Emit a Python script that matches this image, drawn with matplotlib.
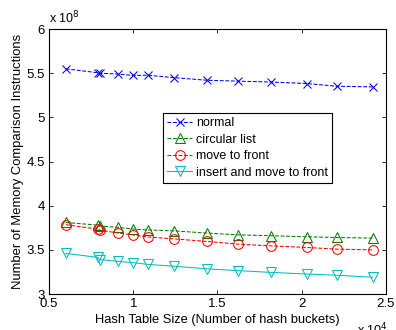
import matplotlib
matplotlib.use("Agg")
import matplotlib.pyplot as plt

plt.rcParams['font.family'] = ['Liberation Sans', 'DejaVu Sans']

# hash table sizes (x 10^4)
buckets = [0.60, 0.79, 0.80, 0.91, 1.00, 1.09, 1.24, 1.44, 1.62, 1.82, 2.03, 2.21, 2.42]
# memory comparison instructions (x 10^8)
normal = [5.55, 5.505, 5.50, 5.49, 5.475, 5.477, 5.45, 5.42, 5.41, 5.40, 5.383, 5.352, 5.345]
circular = [3.81, 3.78, 3.77, 3.755, 3.735, 3.725, 3.715, 3.69, 3.67, 3.66, 3.648, 3.64, 3.633]
move_front = [3.785, 3.735, 3.725, 3.69, 3.67, 3.645, 3.625, 3.595, 3.565, 3.545, 3.527, 3.508, 3.50]
insert_move = [3.46, 3.415, 3.39, 3.37, 3.355, 3.335, 3.315, 3.285, 3.265, 3.245, 3.226, 3.213, 3.19]

x_ticks = [0.5, 1, 1.5, 2, 2.5]
y_ticks = [3, 3.5, 4, 4.5, 5, 5.5, 6]

fig = plt.figure(figsize=(3.96, 3.3), dpi=100)
ax = fig.add_axes([0.1237, 0.109, 0.851, 0.803])

lw = 0.75
ms = 7
ax.plot(buckets, normal, '--x', color='blue', lw=lw, ms=ms - 1, mew=lw, label='normal')
ax.plot(buckets, circular, '--^', color=(0, 0.5, 0), lw=lw, ms=ms, mew=lw,
        mfc='none', label='circular list')
ax.plot(buckets, move_front, '--o', color='red', lw=lw, ms=ms, mew=lw,
        mfc='none', label='move to front')
ax.plot(buckets, insert_move, '-v', color=(0, 0.75, 0.75), lw=lw, ms=ms, mew=lw,
        mfc='none', label='insert and move to front')

ax.set_xlim(0.5, 2.5)
ax.set_ylim(3, 6)
ax.set_xticks(x_ticks)
ax.set_xticklabels(['0.5', '1', '1.5', '2', '2.5'])
ax.set_yticks(y_ticks)
ax.set_yticklabels(['3', '3.5', '4', '4.5', '5', '5.5', '6'])
ax.tick_params(direction='in', top=True, right=True, length=3, width=0.6,
               labelsize=9.5, pad=3)
for s in ax.spines.values():
    s.set_linewidth(0.8)

ax.set_xlabel('Hash Table Size (Number of hash buckets)', fontsize=9.3, labelpad=3)
ax.set_ylabel('Number of Memory Comparison Instructions', fontsize=9.4, labelpad=2)

# MATLAB style exponent labels
ax.text(0.0, 1.012, r'x 10$^{8}$', transform=ax.transAxes, fontsize=9,
        ha='left', va='bottom')
ax.text(1.005, -0.105, r'x 10$^{4}$', transform=ax.transAxes, fontsize=9,
        ha='right', va='top')

leg = ax.legend(loc='upper left', bbox_to_anchor=(0.338, 0.683), fontsize=9,
                fancybox=False, edgecolor='black', framealpha=1,
                borderaxespad=0, handlelength=2.0, handletextpad=0.3,
                labelspacing=0.35, borderpad=0.35)
leg.get_frame().set_linewidth(0.8)

fig.savefig('out.png', dpi=100)
